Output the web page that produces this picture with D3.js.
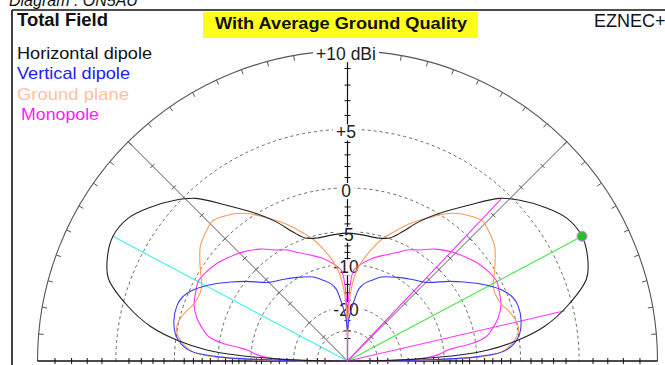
<!DOCTYPE html>
<html>
<head>
<meta charset="utf-8">
<script src="https://cdn.jsdelivr.net/npm/d3@7"></script>
<style>
body { margin: 0; background: #fff; }
svg { display: block; }
text { font-family: "Liberation Sans", Arial, sans-serif; }
</style>
</head>
<body>
<svg width="665" height="365"></svg>
<script>
// elevation angle (deg) and total field gain (dBi), right half; left half is the mirror image
var hdAngle = [0, 1, 2, 3, 4.5, 7, 10, 14, 19, 23, 28, 33, 38, 43, 47, 52, 58, 63, 67, 71, 76, 84, 90];
var hdGain  = [-99, -22, -14, -7.8, -3.5, -0.1, 2.5, 4.6, 6.5, 7.05, 7.35, 7.1, 6.3, 5.3, 4.3, 2.3, 0.1, -1.8, -3.6, -4.9, -5.35, -5.3, -5.2];

var vdAngle = [0, 0.8, 2, 4, 8, 13, 18, 21, 25, 30, 34, 38, 45, 52, 58, 68, 73, 78, 81, 83, 86, 88, 90];
var vdGain  = [-99, -14.2, -4.6, -1.4, -0.05, 0.5, 0.6, 0.4, -0.4, -2.0, -3.5, -5.0, -7.6, -8.8, -9.7, -11.1, -12.3, -13.5, -14.8, -17, -21, -24, -29.5];

var gpAngle = [0, 0.5, 1.3, 3, 6, 10, 13, 17, 20, 23, 27, 30, 32, 35, 38, 43, 46, 49, 55, 62, 66, 70, 74, 77, 80, 84, 87, 89, 90];
var gpGain  = [-99, -15, -6.4, -2.2, -0.8, 0.05, 0.05, -0.4, -0.9, -1.1, -0.97, -0.4, 0.05, 0.7, 1.3, 1.8, 2.0, 1.7, 0.7, -1.3, -2.5, -3.9, -5.3, -6.7, -8.3, -10.9, -15, -22, -35];

var mpAngle = [0, 1, 2, 4, 6, 7, 8, 10, 13, 16, 20, 25, 28, 32, 36, 41, 46, 52, 57, 61, 66, 70, 76, 82, 86, 88, 89.5, 90];
var mpGain  = [-99, -20, -14, -11, -9.5, -8, -5.5, -3.5, -2.5, -1.7, -1.0, -0.6, -0.4, -0.6, -0.95, -1.6, -2.3, -3.4, -4.6, -5.3, -6.5, -7.3, -8.4, -9.8, -11, -14, -22, -99];

// cursor / beamwidth lines (angle, gain at the end)
var cursorAngle = [152, 28, 13, 46.5];
var cursorGain  = [7.35, 7.35, 4.35, 4.35];
var cursorColor = ["#3ef0f0", "#44e844", "#ff33ff", "#ff33ff"];
var maxAngle = 28, maxGain = 7.35;

var ringLevels = [5, 0, -5, -10, -20, -30];
var ringLabels = ["+10 dBi", "+5", "0", "-5", "-10", "-20"];
var ringLabelLevels = [10, 5, 0, -5, -10, -20];
var axisTicks = [9, 8, 7, 6, 4, 3, 2, 1, -1, -2, -3, -4, -6, -7, -8, -9, -11, -12, -14, -16, -18, -25, -30, -35];
var diagTicks = [8, 6, 3, 0, -3, -5, -7, -10, -13, -20, -28];

var legendNames  = ["Horizontal dipole", "Vertical dipole", "Ground plane", "Monopole"];
var legendWidths = [135, 113, 112, 78];
var legendColors = ["#111111", "#2020ff", "#ffbf9f", "#ff1aff"];
var traceColors  = ["#222222", "#3a3aff", "#ff9955", "#ff33ff"];

var svg = d3.select("svg"),
    width = +svg.attr("width"),
    height = +svg.attr("height");

var cx = 347.5, cy = 361, R = 310;

// ARRL log scale: radius shrinks by 0.89 for every 2 dB
var gainScale = d3.scaleLog().domain([R * Math.pow(0.89, 40), R]).range([-70, 10]);
function rad(db) { return gainScale.invert(db); }
var angleScale = d3.scaleLinear().domain([0, 180]).range([Math.PI / 2, -Math.PI / 2]);
function pt(deg, r) {
    var a = deg * Math.PI / 180;
    return [cx + r * Math.cos(a), cy - r * Math.sin(a)];
}

// frame and header
svg.append("line").attr("x1", 12).attr("y1", 10).attr("x2", width).attr("y2", 10)
    .attr("stroke", "#111").attr("stroke-width", 1.6);
svg.append("line").attr("x1", 12).attr("y1", 10).attr("x2", 12).attr("y2", height)
    .attr("stroke", "#111").attr("stroke-width", 1.6);
svg.append("text").attr("x", 9).attr("y", 6).attr("font-size", 16).attr("font-style", "italic")
    .attr("fill", "#111").text("Diagram : ON5AU");
svg.append("text").attr("x", 17).attr("y", 26).attr("font-size", 17.5).attr("font-weight", "bold")
    .attr("textLength", 91).attr("lengthAdjust", "spacingAndGlyphs")
    .attr("fill", "#111").text("Total Field");
svg.append("rect").attr("x", 203).attr("y", 12).attr("width", 275).attr("height", 26).attr("fill", "#ffff1a");
svg.append("text").attr("x", 215).attr("y", 28.5).attr("font-size", 16.5)
    .attr("textLength", 252).attr("lengthAdjust", "spacingAndGlyphs")
    .attr("font-weight", "bold").attr("fill", "#111").text("With Average Ground Quality");
svg.append("text").attr("x", 594).attr("y", 27).attr("font-size", 18).attr("fill", "#111").text("EZNEC+");

svg.selectAll(".legend").data(legendNames).enter().append("text")
    .attr("class", "legend")
    .attr("x", function (d, i) { return i == 3 ? 21 : 17; })
    .attr("y", function (d, i) { return 59 + i * 20.3; })
    .attr("font-size", 16.5)
    .attr("textLength", function (d, i) { return legendWidths[i]; })
    .attr("lengthAdjust", "spacingAndGlyphs")
    .attr("fill", function (d, i) { return legendColors[i]; })
    .text(function (d) { return d; });

var grid = svg.append("g");

// dashed rings
ringLevels.forEach(function (lv) {
    var p = d3.path();
    p.arc(cx, cy, rad(lv), Math.PI, 2 * Math.PI);
    grid.append("path").attr("d", p.toString()).attr("fill", "none")
        .attr("stroke", "#666").attr("stroke-width", 1).attr("stroke-dasharray", "3,3");
});

// outer circle with 5 degree ticks
var outer = d3.path();
outer.arc(cx, cy, R, Math.PI, 2 * Math.PI);
grid.append("path").attr("d", outer.toString()).attr("fill", "none").attr("stroke", "#555").attr("stroke-width", 1.1);
d3.range(5, 180, 5).forEach(function (deg) {
    var a = pt(deg, R), b = pt(deg, R - 5);
    grid.append("line").attr("x1", a[0]).attr("y1", a[1]).attr("x2", b[0]).attr("y2", b[1])
        .attr("stroke", "#555").attr("stroke-width", 1);
});

// 45 degree lines with ticks
[45, 135].forEach(function (deg) {
    var e = pt(deg, R);
    grid.append("line").attr("x1", cx).attr("y1", cy).attr("x2", e[0]).attr("y2", e[1])
        .attr("stroke", "#555").attr("stroke-width", 1);
    diagTicks.forEach(function (db) {
        var c = pt(deg, rad(db)), a = (deg + 90) * Math.PI / 180;
        grid.append("line")
            .attr("x1", c[0] + 3 * Math.cos(a)).attr("y1", c[1] - 3 * Math.sin(a))
            .attr("x2", c[0] - 3 * Math.cos(a)).attr("y2", c[1] + 3 * Math.sin(a))
            .attr("stroke", "#555").attr("stroke-width", 1);
    });
});

// vertical axis and baseline
grid.append("line").attr("x1", cx).attr("y1", cy).attr("x2", cx).attr("y2", cy - R)
    .attr("stroke", "#111").attr("stroke-width", 1.2);
grid.append("line").attr("x1", cx - R).attr("y1", cy).attr("x2", cx + R).attr("y2", cy)
    .attr("stroke", "#111").attr("stroke-width", 1.4);
axisTicks.forEach(function (db) {
    var r = rad(db);
    grid.append("line").attr("x1", cx - 3).attr("x2", cx + 3).attr("y1", cy - r).attr("y2", cy - r)
        .attr("stroke", "#111").attr("stroke-width", 1);
    [-1, 1].forEach(function (s) {
        grid.append("line").attr("x1", cx + s * r).attr("x2", cx + s * r).attr("y1", cy - 3).attr("y2", cy + 3)
            .attr("stroke", "#111").attr("stroke-width", 1);
    });
});

// level labels with white background
var labelBg = svg.append("g");
var labelTx = svg.append("g");
ringLabels.forEach(function (lab, i) {
    var y = cy - rad(ringLabelLevels[i]) + 3;
    var t = labelTx.append("text").attr("x", 346).attr("y", y).attr("dy", "0.35em")
        .attr("text-anchor", "middle").attr("font-size", 17.5).attr("fill", "#222").text(lab);
    var bb = t.node().getBBox();
    labelBg.append("rect")
        .attr("x", bb.x - 3).attr("y", bb.y + 2).attr("width", bb.width + 6).attr("height", bb.height - 4)
        .attr("fill", "#fff");
});

// cursor lines
var plot = svg.append("g");
cursorAngle.forEach(function (deg, i) {
    var e = pt(deg, rad(cursorGain[i]));
    plot.append("line").attr("x1", cx).attr("y1", cy).attr("x2", e[0]).attr("y2", e[1])
        .attr("stroke", cursorColor[i]).attr("stroke-width", 1.1);
});

// pattern traces
var radial = d3.lineRadial()
    .angle(function (d) { return angleScale(d[0]); })
    .radius(function (d) { return rad(d[1]); })
    .curve(d3.curveCatmullRom.alpha(0.5));

function fullTrace(angles, gains) {
    var pts = angles.map(function (a, i) { return [a, gains[i]]; });
    var mirror = [];
    for (var i = angles.length - 1; i >= 0; i--) {
        if (angles[i] < 90) mirror.push([180 - angles[i], gains[i]]);
    }
    return pts.concat(mirror);
}

var traces = [
    fullTrace(mpAngle, mpGain),
    fullTrace(gpAngle, gpGain),
    fullTrace(vdAngle, vdGain),
    fullTrace(hdAngle, hdGain)
];
var order = [3, 2, 1, 0];

plot.append("g").attr("transform", "translate(" + cx + "," + cy + ")")
    .selectAll("path").data(traces).enter().append("path")
    .attr("d", radial)
    .attr("fill", "none")
    .attr("stroke", function (d, i) { return traceColors[order[i]]; })
    .attr("stroke-width", 1.1);

var m = pt(maxAngle, rad(maxGain));
plot.append("circle").attr("cx", m[0]).attr("cy", m[1]).attr("r", 5)
    .attr("fill", "#22c322").attr("stroke", "#ff66ff").attr("stroke-width", 1);
</script>
</body>
</html>
